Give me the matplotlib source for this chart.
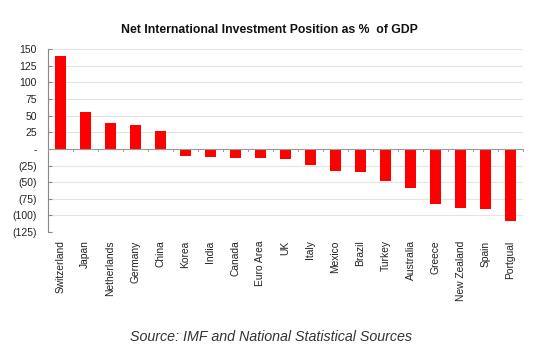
import matplotlib.pyplot as plt
import numpy as np

countries = ["Switzerland", "Japan", "Netherlands", "Germany", "China", "Korea",
             "India", "Canada", "Euro Area", "UK", "Italy", "Mexico", "Brazil",
             "Turkey", "Australia", "Greece", "New Zealand", "Spain", "Portgual"]
niip_pct_gdp = [139, 55, 39, 36, 27, -10.5, -11.5, -13.5, -13, -14.5, -24.5,
                -33, -34.5, -47.5, -58, -83, -89.5, -91, -109]
yticks = [150, 125, 100, 75, 50, 25, 0, -25, -50, -75, -100, -125]

plt.rcParams['font.family'] = ['Liberation Sans', 'DejaVu Sans']

def acct(v):
    if v == 0:
        return "-"
    if v < 0:
        return f"({-v})"
    return str(v)

fig = plt.figure(figsize=(5.5, 3.48), dpi=100)
ax = fig.add_axes([0.087, 0.333, 0.864, 0.526])

x = np.arange(len(countries))
ax.bar(x, niip_pct_gdp, width=0.42, color="#ff0000", zorder=3)

ax.set_xlim(-0.5, len(countries) - 0.5)
ax.set_ylim(-125, 150)
ax.set_yticks(yticks)
ax.set_yticklabels([acct(v) for v in yticks], fontsize=7.5, color="#222222")
ax.yaxis.grid(True, color="#e4e4e4", linewidth=0.8, zorder=0)

# zero line with small category-boundary ticks
ax.axhline(0, color="#999999", linewidth=0.8, zorder=4)
for b in np.arange(-0.5, len(countries), 1.0):
    ax.plot([b, b], [0, -3], color="#999999", linewidth=0.7, zorder=4, clip_on=False)

ax.set_xticks(x)
ax.set_xticklabels(countries, rotation=90, fontsize=7.4, color="#222222")
ax.tick_params(axis="x", length=0, pad=6)
ax.tick_params(axis="y", length=3, direction="in", color="#888888", pad=8)

for s in ["top", "right", "bottom"]:
    ax.spines[s].set_visible(False)
ax.spines["left"].set_color("#888888")
ax.spines["left"].set_linewidth(0.8)

fig.text(0.489, 0.914, "Net International Investment Position as %  of GDP",
         ha="center", va="center", fontsize=8.8, fontweight="bold", color="#111111")
fig.text(0.493, 0.031, "Source: IMF and National Statistical Sources",
         ha="center", va="center", fontsize=10.3, style="italic", color="#333333")

fig.savefig("out.png", dpi=100, facecolor="white")
